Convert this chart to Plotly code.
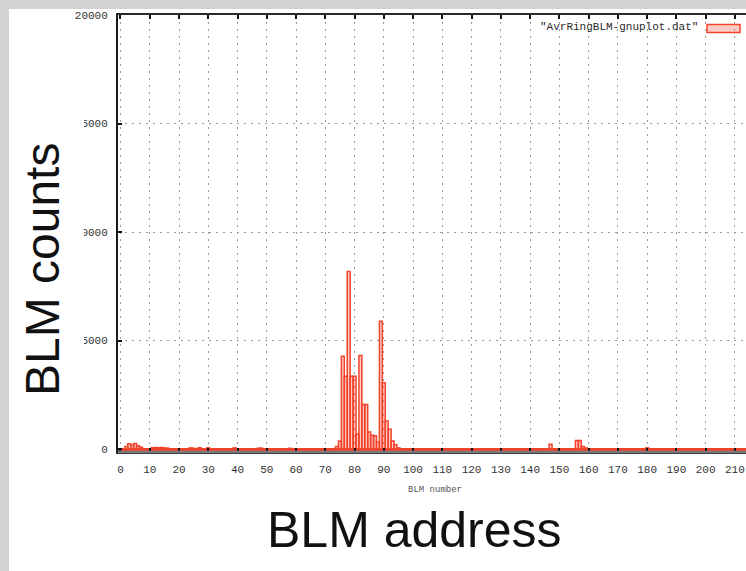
import plotly.graph_objects as go

# ---------------- data ----------------
blm_number = [2, 3, 4, 5, 6, 7, 11, 12, 13, 14, 15, 16, 24, 25, 27, 30, 39, 47, 48, 58,
              74, 75, 76, 77, 78, 79, 80, 81, 82, 83, 84, 85, 86, 87, 88, 89, 90, 91, 92, 93, 94, 95,
              147, 156, 157, 158, 159, 180]
blm_counts = [120, 250, 180, 260, 160, 90, 70, 80, 70, 80, 60, 50, 60, 40, 70, 60, 60, 40, 50, 40,
              120, 380, 4280, 3360, 8180, 3360, 3360, 690, 4320, 2060, 2060, 790, 640, 620, 330, 5890, 3060, 1300, 920, 380, 200, 60,
              230, 400, 400, 120, 60, 60]
x_tick_vals = list(range(0, 220, 10))
y_tick_vals = [0, 5000, 10000, 15000, 20000]
legend_label = '"AvrRingBLM-gnuplot.dat"'
y_title = "BLM counts"
x_title_big = "BLM address"
x_title_small = "BLM number"

# ---------------- layout geometry ----------------
W, H = 746, 571
L, R, T, B = 118, 0, 15, 119
PW = W - L - R
PH = H - T - B

def xp(px):
    return (px - L) / PW

def yp(py):
    return (H - B - py) / PH

RED = "#f2432c"
FILL = "rgba(255,110,90,0.35)"

fig = go.Figure()
fig.add_trace(go.Bar(
    x=blm_number, y=blm_counts, width=1,
    marker=dict(color=FILL, line=dict(color=RED, width=1.5)),
    hoverinfo="skip", showlegend=False,
))

tickfont = dict(family="Liberation Mono", size=11, color="#333")

fig.update_layout(
    template="none",
    width=W, height=H,
    margin=dict(l=L, r=R, t=T, b=B, pad=0),
    paper_bgcolor="white", plot_bgcolor="white",
    showlegend=False,
    xaxis=dict(
        range=[-0.85, 213.8], tickvals=x_tick_vals, automargin=False,
        ticks="inside", ticklen=4, tickwidth=1.5, tickcolor="#111",
        showline=True, linecolor="#2a2a2a", linewidth=2, mirror="ticks",
        showgrid=True, gridcolor="#9a9a9a", gridwidth=1, griddash="2px,5px",
        zeroline=False, tickfont=tickfont, ticklabelstandoff=6,
    ),
    yaxis=dict(
        range=[-130, 20000], tickvals=y_tick_vals, tickformat="d", automargin=False,
        ticks="inside", ticklen=4, tickwidth=1.5, tickcolor="#111",
        showline=True, linecolor="#1a1a1a", linewidth=2,
        showgrid=True, gridcolor="#9a9a9a", gridwidth=1, griddash="2px,5px",
        zeroline=True, zerolinecolor=RED, zerolinewidth=2.5,
        tickfont=tickfont, ticklabelstandoff=6,
    ),
)

shapes = [
    # white box of slide text covering left part of tick labels
    dict(type="rect", xref="paper", yref="paper", x0=xp(9), x1=xp(84), y0=yp(440), y1=yp(60),
         fillcolor="white", line=dict(width=0), layer="above"),
    # slide gray strips
    dict(type="rect", xref="paper", yref="paper", x0=xp(0), x1=xp(9), y0=yp(571), y1=yp(0),
         fillcolor="#d3d3d3", line=dict(width=0), layer="above"),
    dict(type="rect", xref="paper", yref="paper", x0=xp(0), x1=xp(746), y0=yp(9), y1=yp(0),
         fillcolor="#d3d3d3", line=dict(width=0), layer="above"),
    # gray bottom axis line
    dict(type="line", xref="paper", yref="paper", x0=xp(118), x1=xp(746), y0=yp(452), y1=yp(452),
         line=dict(color="#7a7a7a", width=2.5), layer="above"),
    # legend sample box
    dict(type="rect", xref="paper", yref="paper", x0=xp(707), x1=xp(740), y0=yp(32.5), y1=yp(24.5),
         fillcolor=FILL, line=dict(color=RED, width=1.5), layer="above"),
]
fig.update_layout(shapes=shapes)

annotations = [
    dict(text=legend_label, x=xp(700), y=yp(27.5), xref="paper", yref="paper",
         xanchor="right", yanchor="middle", showarrow=False,
         font=dict(family="Liberation Mono", size=11, color="#2a2a2a")),
    dict(text=y_title, x=xp(42), y=yp(270), xref="paper", yref="paper", textangle=-90,
         xanchor="center", yanchor="middle", showarrow=False,
         font=dict(family="Liberation Sans", size=48, color="#111")),
    dict(text=x_title_big, x=xp(414), y=yp(530), xref="paper", yref="paper",
         xanchor="center", yanchor="middle", showarrow=False,
         font=dict(family="Liberation Sans", size=50, color="#111")),
    dict(text=x_title_small, x=xp(435), y=yp(490), xref="paper", yref="paper",
         xanchor="center", yanchor="middle", showarrow=False,
         font=dict(family="Liberation Mono", size=9, color="#555")),
]
fig.update_layout(annotations=annotations)

fig.write_html(
    "out.html",
    config={"displayModeBar": False},
    post_script="document.body.style.margin='0px';document.body.style.overflow='hidden';",
)
